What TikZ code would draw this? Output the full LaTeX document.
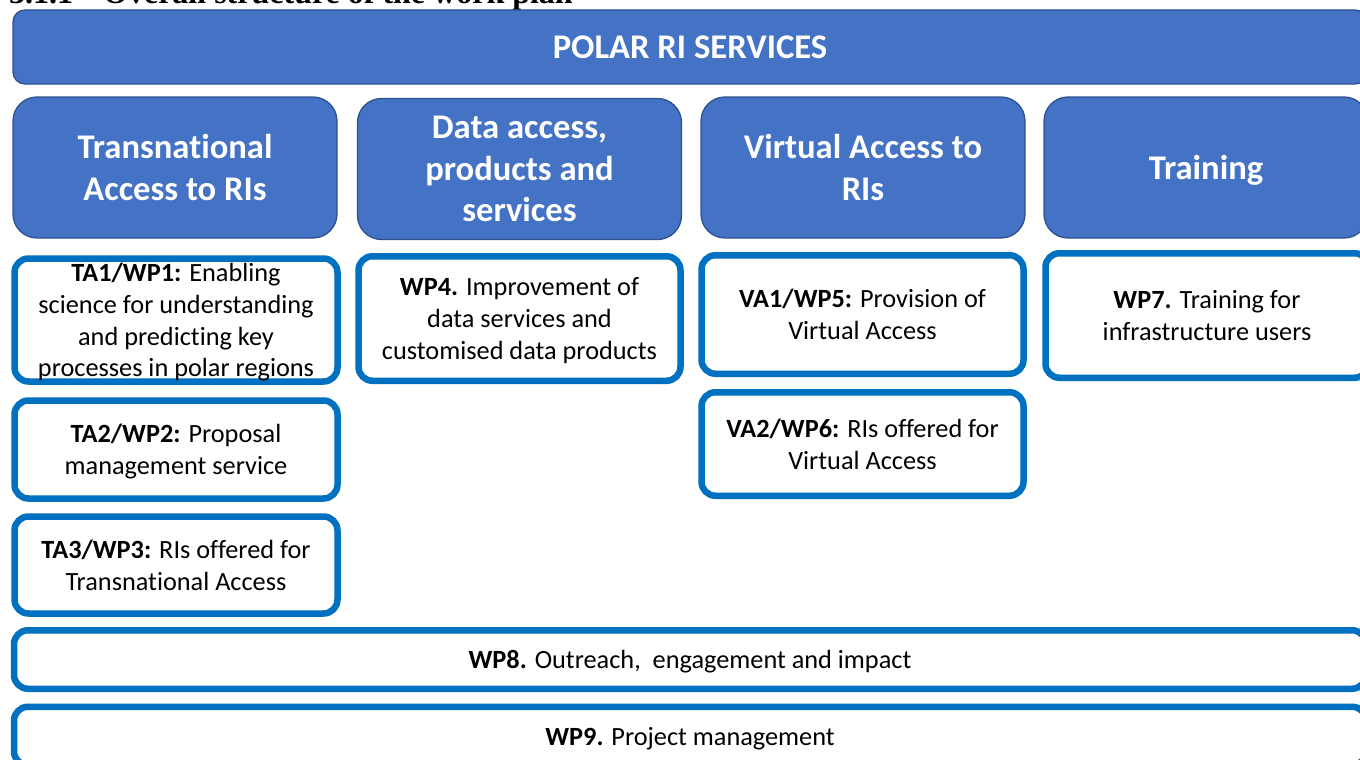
\documentclass[tikz,border=0pt]{standalone}
\usepackage{fontspec}
\setmainfont{Carlito}[Ligatures={NoCommon,NoContextual}]
\newfontfamily\headingfont{Liberation Serif}
\definecolor{hdrblue}{HTML}{4472C4}
\definecolor{hdredge}{HTML}{2F528F}
\definecolor{wpblue}{HTML}{0070C0}

\tikzset{
  banner/.style={draw=hdredge, line width=1.3pt, fill=hdrblue, rounded corners=12pt,
    text=white, font=\fontsize{34.6}{41.5}\selectfont\bfseries, inner sep=0pt,
    align=center, text depth=0pt},
  colhead/.style={banner, rounded corners=24pt, minimum width=324pt, minimum height=141pt},
  wpbox/.style={draw=wpblue, line width=6.5pt, fill=white, rounded corners=14pt,
    align=center, inner sep=0pt, font=\fontsize{26.3}{31.7}\selectfont,
    minimum width=323pt, text depth=0pt},
}

\begin{document}
\begin{tikzpicture}[x=1pt,y=-1pt]
 % keep the page to the size of the reference
 \clip (0,0) rectangle (1360,760);

 % the section heading, cut at the top
 \node[anchor=base west, inner sep=0pt, font=\headingfont\fontsize{32}{36}\selectfont\bfseries]
   (heading) at (9,4) {3.1.1\hspace{30pt}Overall structure of the work plan};

 % the top banner
 \node[banner, minimum width=1354pt, minimum height=74pt] (services) at (690,47) {POLAR RI SERVICES};

 % the four column heads
 \foreach \x/\y/\name/\txt in {
     175/167.5/ta/{Transnational\\Access to RIs},
     519.5/169/da/{Data access,\\products and\\services},
     863/167.5/va/{Virtual Access to\\RIs},
     1206/167.5/tr/{Training}}
         \node[colhead] (\name) at (\x,\y) {\txt};

 % transnational access
 \node[wpbox, minimum height=123pt] (ta1) at (176,320)
   {\textbf{TA1/WP1:} Enabling\\science for understanding\\and predicting key\\processes in polar regions};
 \node[wpbox, minimum height=98pt] (ta2) at (176,449.5)
   {\textbf{TA2/WP2:} Proposal\\management service};
 \node[wpbox, minimum height=97pt] (ta3) at (176,565)
   {\textbf{TA3/WP3:} RIs offered for\\Transnational Access};

 % data access
 \node[wpbox, minimum width=322pt, minimum height=124.5pt] (wp4) at (519.5,318.5)
   {\textbf{WP4.} Improvement of\\data services and\\customised data products};

 % virtual access
 \node[wpbox, minimum width=322pt, minimum height=118.5pt] (va1) at (862.5,314.5)
   {\textbf{VA1/WP5:} Provision of\\Virtual Access};
 \node[wpbox, minimum width=322pt, minimum height=103.5pt] (va2) at (862.5,444)
   {\textbf{VA2/WP6:} RIs offered for\\Virtual Access};

 % training
 \node[wpbox, minimum height=124.5pt] (wp7) at (1207,315.5)
   {\textbf{WP7.} Training for\\infrastructure users};

 % the two rows across all columns
 \node[wpbox, minimum width=1352pt, minimum height=58.5pt] (wp8) at (690,659.5)
   {\textbf{WP8.} Outreach,\ \ engagement and impact};
 \node[wpbox, minimum width=1352pt, minimum height=58.5pt] (wp9) at (690,736)
   {\textbf{WP9.} Project management};
\end{tikzpicture}
\end{document}
